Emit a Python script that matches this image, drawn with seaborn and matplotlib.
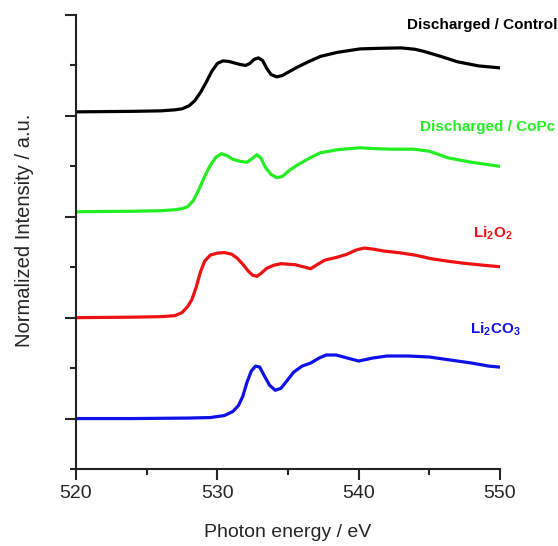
import numpy as np
import pandas as pd
import matplotlib
matplotlib.use('Agg')
import matplotlib.pyplot as plt
import seaborn as sns
from matplotlib.ticker import MultipleLocator, NullFormatter

# O K-edge spectra (intensity relative to each baseline)
li2co3_e = [520, 524, 528, 529.5, 530.5, 531.1, 531.5, 531.8, 532.1, 532.4, 532.7, 533.0, 533.3,
            533.7, 534.1, 534.5, 534.9, 535.4, 536.0, 536.6, 537.2, 537.7, 538.4, 539.2, 540.0,
            541.0, 542.0, 543.5, 545.0, 546.5, 548.0, 549.2, 550]
li2co3_i = [0.0, 0.0, 0.005, 0.01, 0.03, 0.07, 0.13, 0.22, 0.36, 0.47, 0.52, 0.51, 0.43,
            0.33, 0.28, 0.30, 0.37, 0.46, 0.52, 0.55, 0.60, 0.63, 0.63, 0.60, 0.57,
            0.60, 0.62, 0.62, 0.61, 0.58, 0.55, 0.52, 0.51]

li2o2_e = [520, 524, 526, 527.0, 527.5, 527.9, 528.2, 528.5, 528.8, 529.1, 529.5, 530.0, 530.5,
           531.0, 531.4, 531.8, 532.2, 532.5, 532.8, 533.1, 533.5, 534.0, 534.5, 535.5, 536.2,
           536.6, 537.0, 537.6, 538.5, 539.2, 539.8, 540.4, 541.0, 541.8, 542.8, 544.0, 545.1,
           546.3, 547.4, 548.8, 550]
li2o2_i = [0.0, 0.005, 0.01, 0.02, 0.05, 0.11, 0.18, 0.30, 0.45, 0.56, 0.62, 0.64, 0.645,
           0.63, 0.59, 0.53, 0.46, 0.42, 0.41, 0.44, 0.49, 0.52, 0.535, 0.525, 0.50,
           0.485, 0.52, 0.57, 0.60, 0.63, 0.67, 0.69, 0.68, 0.66, 0.645, 0.62, 0.585,
           0.56, 0.54, 0.52, 0.505]

copc_e = [520, 524, 526, 527.0, 527.5, 527.9, 528.3, 528.7, 529.1, 529.5, 529.9, 530.3, 530.7,
          531.1, 531.6, 532.1, 532.5, 532.8, 533.1, 533.4, 533.8, 534.2, 534.6, 535.1, 535.7,
          536.5, 537.3, 538.5, 540.1, 541.2, 542.3, 543.9, 545.0, 546.3, 548.0, 550]
copc_i = [0.0, 0.005, 0.01, 0.02, 0.03, 0.05, 0.11, 0.22, 0.35, 0.46, 0.54, 0.575, 0.555,
          0.52, 0.50, 0.49, 0.53, 0.565, 0.53, 0.44, 0.37, 0.337, 0.35, 0.41, 0.466,
          0.53, 0.585, 0.615, 0.634, 0.625, 0.62, 0.62, 0.60, 0.535, 0.49, 0.45]

control_e = [520, 524, 526, 527.0, 527.5, 528.0, 528.4, 528.8, 529.2, 529.6, 530.0, 530.4, 530.8,
             531.2, 531.6, 532.0, 532.3, 532.6, 532.9, 533.2, 533.5, 533.8, 534.2, 534.6, 535.1,
             535.7, 536.5, 537.3, 538.5, 540.1, 541.5, 543.0, 544.0, 544.6, 545.8, 547.0, 548.5, 550]
control_i = [0.0, 0.005, 0.01, 0.02, 0.03, 0.06, 0.11, 0.19, 0.29, 0.40, 0.48, 0.505, 0.50,
             0.485, 0.47, 0.46, 0.48, 0.52, 0.535, 0.51, 0.43, 0.37, 0.347, 0.36, 0.40,
             0.446, 0.50, 0.55, 0.59, 0.624, 0.63, 0.634, 0.62, 0.60, 0.55, 0.496, 0.455, 0.436]

names = ['Li2CO3', 'Li2O2', 'Discharged / CoPc', 'Discharged / Control']
offsets = [0.5, 1.5, 2.55, 3.54]
colors = ['#1010e8', '#ee1111', '#22ee22', '#000000']
labels = [r'$\mathbf{Li_{2}CO_{3}}$', r'$\mathbf{Li_{2}O_{2}}$', 'Discharged / CoPc', 'Discharged / Control']
label_xy = [(547.9, 1.38, 'left'), (548.1, 2.34, 'left'), (553.9, 3.39, 'right'), (554.1, 4.40, 'right')]

frames = []
for name, e, i, off in zip(names,
                           [li2co3_e, li2o2_e, copc_e, control_e],
                           [li2co3_i, li2o2_i, copc_i, control_i],
                           offsets):
    frames.append(pd.DataFrame({'energy': e, 'intensity': np.array(i) + off, 'sample': name}))
df = pd.concat(frames, ignore_index=True)

sns.set_style('ticks')
plt.rcParams['font.family'] = ['Liberation Sans', 'DejaVu Sans']
plt.rcParams['mathtext.fontset'] = 'custom'
plt.rcParams['mathtext.rm'] = 'Liberation Sans'
plt.rcParams['mathtext.bf'] = 'Liberation Sans:bold'

fig = plt.figure(figsize=(5.58, 5.46), dpi=100)
ax = fig.add_axes([76 / 558, 1 - 469 / 546, 424 / 558, 454 / 546])

sns.lineplot(data=df, x='energy', y='intensity', hue='sample', hue_order=names,
             palette=colors, linewidth=2.3, legend=False, ax=ax, estimator=None, sort=False)

for lab, (x, y, ha), c in zip(labels, label_xy, colors):
    ax.text(x, y, lab, color=c, fontsize=11, fontweight='bold', ha=ha, va='center', clip_on=False)

ax.set_xlim(520, 550)
ax.set_ylim(0, 4.5)
ax.xaxis.set_major_locator(MultipleLocator(10))
ax.xaxis.set_minor_locator(MultipleLocator(5))
ax.yaxis.set_major_locator(MultipleLocator(1, offset=0.5))
ax.yaxis.set_minor_locator(MultipleLocator(1))
ax.yaxis.set_major_formatter(NullFormatter())
ax.tick_params(axis='both', which='major', length=8, width=1.5, labelsize=14, direction='out')
ax.tick_params(axis='both', which='minor', length=4.5, width=1.5, direction='out')
for s in ['top', 'right']:
    ax.spines[s].set_visible(False)
for s in ['left', 'bottom']:
    ax.spines[s].set_linewidth(1.5)
    ax.spines[s].set_color('#222222')

ax.set_xlabel('Photon energy / eV', fontsize=14)
ax.set_ylabel('Normalized Intensity / a.u.', fontsize=14.5)
ax.xaxis.set_label_coords(0.5, -(524 - 469) / 454)
ax.yaxis.set_label_coords(-(76 - 34) / 424, (469 - 230) / 454)

fig.savefig('out.png', dpi=100)
